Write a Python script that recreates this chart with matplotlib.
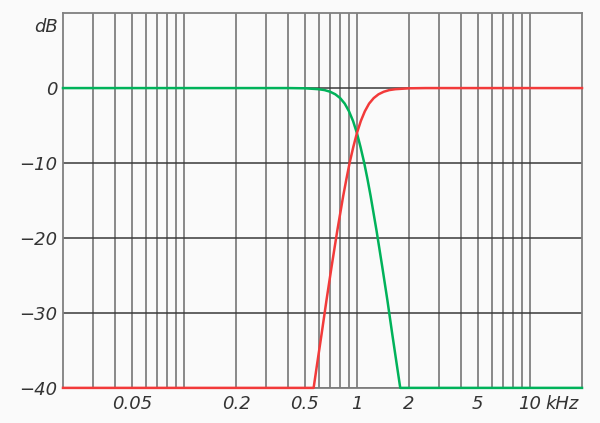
import matplotlib
matplotlib.use('Agg')
import matplotlib.pyplot as plt


# ── data ─────────────────────────────────────────────────────────────────────

# low-pass (green), frequency in kHz and level in dB
lp_freq = [0.02, 0.4, 0.5, 0.6, 0.65, 0.7, 0.75, 0.8, 0.85, 0.9, 0.95, 1.0,
           1.05, 1.1, 1.15, 1.2, 1.3, 1.4, 1.5, 1.6, 1.7, 1.78, 20]
lp_db = [0, 0, -0.03, -0.15, -0.27, -0.49, -0.83, -1.34, -2.07, -3.1, -4.4, -6.0,
         -7.9, -9.9, -12.1, -14.4, -19.1, -23.8, -28.3, -32.8, -36.9, -40, -40]

# high-pass (red)
hp_freq = [0.02, 0.562, 0.588, 0.625, 0.667, 0.714, 0.769, 0.833, 0.87, 0.909,
           0.952, 1.0, 1.053, 1.111, 1.176, 1.25, 1.333, 1.429, 1.538, 1.667,
           2.0, 2.5, 20]
hp_db = [-40, -40, -36.9, -32.8, -28.3, -23.8, -19.1, -14.4, -12.1, -9.9,
         -7.9, -6.0, -4.4, -3.1, -2.07, -1.34, -0.83, -0.49, -0.27, -0.15,
         -0.03, 0, 0]

x_grid = [0.03, 0.04, 0.05, 0.06, 0.07, 0.08, 0.09,
          0.1, 0.2, 0.3, 0.4, 0.5, 0.6, 0.7, 0.8, 0.9,
          1, 2, 3, 4, 5, 6, 7, 8, 9, 10]
x_ticks = [0.05, 0.2, 0.5, 1, 2, 5, 10]
x_labels = ['0.05', '0.2', '0.5', '1', '2', '5', '10']
x_unit = 'kHz'

y_ticks = [0, -10, -20, -30, -40]
y_labels = ['0', '\u221210', '\u221220', '\u221230', '\u221240']
y_unit = 'dB'


# ── figure ────────────────────────────────────────────────────────────────────

fig = plt.figure(figsize=(6, 4.23), dpi=100, facecolor='#fafafa')
ax = fig.add_axes([0.105, 0.083, 0.865, 0.886])
ax.set_facecolor('#fafafa')

ax.set_xscale('log')
ax.set_xlim(0.02, 20)
ax.set_ylim(-40, 10)

for f in x_grid:
    ax.axvline(f, color='#808080', lw=1.3, zorder=1)
for y in y_ticks:
    ax.axhline(y, color='#3a3a3a', lw=1.1, zorder=1)

ax.plot(lp_freq, lp_db, color='#00b25a', lw=1.8, zorder=3, clip_on=False)
ax.plot(hp_freq, hp_db, color='#f23a3a', lw=1.8, zorder=3, clip_on=False)

for s in ax.spines.values():
    s.set_color('#808080')
    s.set_linewidth(1.3)

txt = dict(fontsize=13, style='italic', color='#333333')
ax.minorticks_off()
ax.set_xticks(x_ticks)
ax.set_xticklabels(x_labels, **txt)
ax.set_yticks(y_ticks)
ax.set_yticklabels(y_labels, **txt)
ax.tick_params(axis='x', length=0, pad=5)
ax.tick_params(axis='y', length=0, pad=4)

# unit labels
ax.annotate(x_unit, xy=(12.3, 0), xycoords=ax.get_xaxis_transform(),
            xytext=(0, -5), textcoords='offset points', ha='left', va='top', **txt)
ax.annotate(y_unit, xy=(0, 8.2), xycoords=ax.get_yaxis_transform(),
            xytext=(-4, 0), textcoords='offset points', ha='right', va='center', **txt)

fig.savefig('out.png', dpi=100, facecolor=fig.get_facecolor())
